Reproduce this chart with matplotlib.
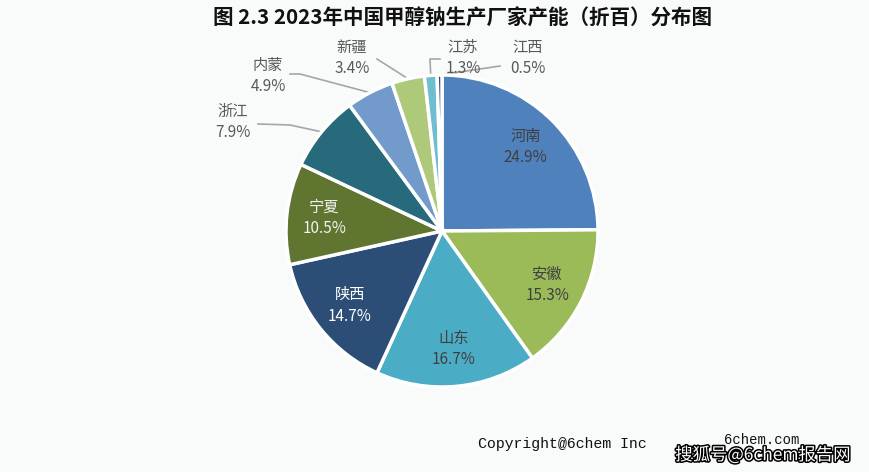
import numpy as np
import matplotlib
matplotlib.use("Agg")
import matplotlib.pyplot as plt
import matplotlib.patheffects as pe

plt.rcParams['font.family'] = ['Noto Sans CJK SC', 'DejaVu Sans']

provinces = ["河南", "安徽", "山东", "陕西", "宁夏", "浙江", "内蒙", "新疆", "江苏", "江西"]
shares = [24.9, 15.3, 16.7, 14.7, 10.5, 7.9, 4.9, 3.4, 1.3, 0.5]
colors = ["#4f81bd", "#9bbb59", "#4bacc6", "#2c4d75", "#5f7530",
          "#276a7c", "#729aca", "#afc97a", "#6fbdd1", "#2c4d75"]
label_colors = ["#404040", "#404040", "#404040", "#ffffff", "#f2f2f2"]

# outside labels: text centre and where the leader line leaves the label
outside_pos = {"浙江": (233, 350), "内蒙": (268, 396), "新疆": (352, 414),
               "江苏": (463, 414), "江西": (528, 414)}
leader_start = {"浙江": [(258, 348), (290, 347)], "内蒙": [(290, 398), (300, 398)],
                "新疆": [(377, 413)], "江苏": [(440, 413), (430, 413)],
                "江西": [(500, 406)]}

W, H = 870, 472
fig = plt.figure(figsize=(W / 100, H / 100), dpi=100)
fig.patch.set_facecolor("#f9fafa")
ax = fig.add_axes((0, 0, 1, 1))
ax.set_aspect("equal")

cx, cy, r = 442, 241, 156
wedges, _ = ax.pie(shares, colors=colors, startangle=90, counterclock=False,
                   center=(cx, cy), radius=r, frame=True,
                   wedgeprops=dict(edgecolor="white", linewidth=2.5))
ax.set_xlim(0, W)
ax.set_ylim(0, H)
ax.axis("off")

for i, (w, name, val) in enumerate(zip(wedges, provinces, shares)):
    mid = np.deg2rad((w.theta1 + w.theta2) / 2)
    text = f"{name}\n{val}%"
    if i < 5:
        d = 0.76 * r
        ax.text(cx + d * np.cos(mid), cy + d * np.sin(mid), text,
                ha="center", va="center", fontsize=11, color=label_colors[i],
                linespacing=1.35)
    else:
        tx, ty = outside_pos[name]
        ax.text(tx, ty, text, ha="center", va="center", fontsize=11,
                color="#595959", linespacing=1.35)
        ex, ey = cx + r * np.cos(mid), cy + r * np.sin(mid)
        pts = leader_start[name] + [(ex, ey)]
        xs, ys = zip(*pts)
        ax.plot(xs, ys, color="#a6a6a6", lw=1.2, zorder=0.5)

fig.text(463 / W, 1 - 18 / H, "图 2.3 2023年中国甲醇钠生产厂家产能（折百）分布图",
         ha="center", va="center", fontsize=14.8, fontweight="bold", color="#111111")
fig.text(562 / W, 1 - 444 / H, "Copyright@6chem Inc", ha="center", va="center",
         fontsize=10.7, family="Liberation Mono", color="#111111")
fig.text(762 / W, 1 - 440 / H, "6chem.com", ha="center", va="center",
         fontsize=10, family="Liberation Mono", color="#111111")
fig.text(763 / W, 1 - 455 / H, "搜狐号@6chem报告网", ha="center", va="center",
         fontsize=12.5, color="white",
         path_effects=[pe.withStroke(linewidth=2.2, foreground="black")])

fig.savefig("out.png", dpi=100, facecolor=fig.get_facecolor())
